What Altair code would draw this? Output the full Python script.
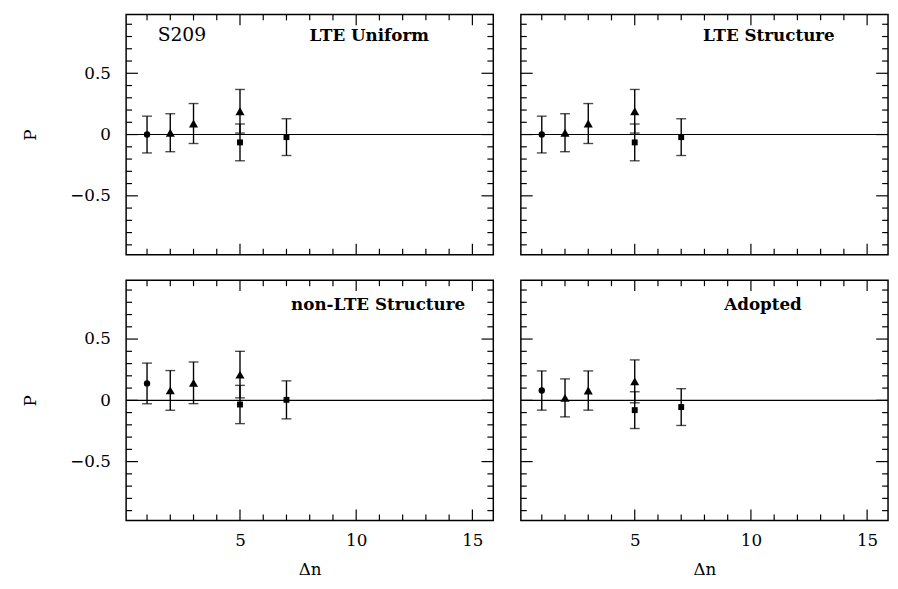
import altair as alt
import pandas as pd

# ---------------- data ----------------
dn = [1, 2, 3, 5, 5, 7]
marker = ["circle", "triangle", "triangle", "triangle", "square", "square"]

panel_names = ["LTE Uniform", "LTE Structure", "non-LTE Structure", "Adopted"]

p_lte_uniform = [0.00, 0.015, 0.09, 0.19, -0.064, -0.021]
e_lte_uniform = [0.15, 0.155, 0.163, 0.178, 0.150, 0.150]

p_lte_structure = [0.00, 0.015, 0.09, 0.19, -0.064, -0.021]
e_lte_structure = [0.15, 0.155, 0.163, 0.178, 0.150, 0.150]

p_nlte_structure = [0.138, 0.081, 0.143, 0.21, -0.034, 0.004]
e_nlte_structure = [0.166, 0.162, 0.170, 0.19, 0.156, 0.155]

p_adopted = [0.08, 0.02, 0.08, 0.155, -0.08, -0.055]
e_adopted = [0.16, 0.155, 0.16, 0.175, 0.15, 0.15]

x_major = [5, 10, 15]
x_minor = [1, 2, 3, 4, 6, 7, 8, 9, 11, 12, 13, 14]
y_major = [-0.5, 0.0, 0.5]
y_minor = [-0.9, -0.8, -0.7, -0.6, -0.4, -0.3, -0.2, -0.1,
           0.1, 0.2, 0.3, 0.4, 0.6, 0.7, 0.8, 0.9]

X_DOMAIN = [0.1, 15.9]
Y_DOMAIN = [-0.98, 0.98]
W, H = 373, 244
SERIF = "DejaVu Serif"
MARKERS = {"circle": ("circle", 42), "triangle": ("triangle-up", 85),
           "square": ("square", 36)}


def panel(name, pvals, evals, show_x, show_y, label_cx, label=None):
    df = pd.DataFrame({"dn": dn, "P": pvals, "err": evals, "marker": marker})
    df["lo"] = df["P"] - df["err"]
    df["hi"] = df["P"] + df["err"]

    xs = alt.Scale(domain=X_DOMAIN, nice=False, zero=False)
    ys = alt.Scale(domain=Y_DOMAIN, nice=False, zero=False)

    if show_x:
        xaxis = alt.Axis(values=x_major, title="Δn", grid=False, domain=False,
                         ticks=False, labelPadding=12, labelFont=SERIF,
                         labelFontSize=17, labelColor="black", titleFont=SERIF,
                         titleFontSize=17, titleFontWeight="normal",
                         titleColor="black", titlePadding=14, labelFlush=False)
    else:
        xaxis = None
    if show_y:
        yaxis = alt.Axis(values=y_major, title="P", grid=False, domain=False,
                         ticks=False, labelPadding=16, labelFont=SERIF,
                         labelFontSize=17, labelColor="black",
                         labelExpr="datum.value == 0 ? '0' : replace(format(datum.value, '.1f'), '-', '\u2212')",
                         titleFont=SERIF, titleFontSize=17,
                         titleFontWeight="normal", titleColor="black",
                         titleX=-97, titleY=H / 2, titleAngle=-90,
                         titleAlign="center", titleBaseline="middle",
                         labelFlush=False)
    else:
        yaxis = None

    base = alt.Chart(df)

    bars = base.mark_rule(color="black", strokeWidth=1.4).encode(
        x=alt.X("dn:Q", scale=xs, axis=xaxis),
        y=alt.Y("lo:Q", scale=ys, axis=yaxis),
        y2="hi:Q",
    )
    cap_lo = base.mark_tick(color="black", orient="horizontal", size=10,
                            thickness=1.4).encode(x="dn:Q", y="lo:Q")
    cap_hi = base.mark_tick(color="black", orient="horizontal", size=10,
                            thickness=1.4).encode(x="dn:Q", y="hi:Q")
    pts = []
    for key, (shp, sz) in MARKERS.items():
        pts.append(base.transform_filter(alt.datum.marker == key).mark_point(
            filled=True, color="black", opacity=1, shape=shp, size=sz
        ).encode(x="dn:Q", y="P:Q"))

    zero = alt.Chart(pd.DataFrame({"v": [0.0]})).mark_rule(
        color="black", strokeWidth=1.1).encode(y="v:Q")

    xmaj = alt.Chart(pd.DataFrame({"t": x_major}))
    xmin = alt.Chart(pd.DataFrame({"t": x_minor}))
    ymaj = alt.Chart(pd.DataFrame({"t": y_major}))
    ymin = alt.Chart(pd.DataFrame({"t": y_minor}))
    tk = dict(color="black", strokeWidth=1.2)
    ticks = [
        xmaj.mark_rule(**tk).encode(x="t:Q", y=alt.value(H), y2=alt.value(H - 11)),
        xmaj.mark_rule(**tk).encode(x="t:Q", y=alt.value(0), y2=alt.value(11)),
        xmin.mark_rule(**tk).encode(x="t:Q", y=alt.value(H), y2=alt.value(H - 6)),
        xmin.mark_rule(**tk).encode(x="t:Q", y=alt.value(0), y2=alt.value(6)),
        ymaj.mark_rule(**tk).encode(y="t:Q", x=alt.value(0), x2=alt.value(12)),
        ymaj.mark_rule(**tk).encode(y="t:Q", x=alt.value(W), x2=alt.value(W - 12)),
        ymin.mark_rule(**tk).encode(y="t:Q", x=alt.value(0), x2=alt.value(6)),
        ymin.mark_rule(**tk).encode(y="t:Q", x=alt.value(W), x2=alt.value(W - 6)),
    ]

    ty = 27 if not show_x else 30
    title_txt = alt.Chart(pd.DataFrame({"name": [name]})).mark_text(
        font=SERIF, fontSize=17, fontWeight="bold", color="black",
        align="center", baseline="alphabetic").encode(
        text="name:N", x=alt.value(label_cx), y=alt.value(ty))

    layers = [bars] + ticks + [zero, cap_lo, cap_hi] + pts + [title_txt]
    if label:
        layers.append(alt.Chart(pd.DataFrame({"name": [label]})).mark_text(
            font=SERIF, fontSize=19, color="black", align="left",
            baseline="alphabetic").encode(
            text="name:N", x=alt.value(32), y=alt.value(ty)))

    return alt.layer(*layers).properties(width=W, height=H)


p1 = panel(panel_names[0], p_lte_uniform, e_lte_uniform, False, True, 247, label="S209")
p2 = panel(panel_names[1], p_lte_structure, e_lte_structure, False, False, 252)
p3 = panel(panel_names[2], p_nlte_structure, e_nlte_structure, True, True, 256)
p4 = panel(panel_names[3], p_adopted, e_adopted, True, False, 246)

chart = alt.vconcat(
    alt.hconcat(p1, p2, spacing=24),
    alt.hconcat(p3, p4, spacing=24),
    spacing=22,
).properties(
    padding={"left": 13, "top": 0, "right": 0, "bottom": 0}
).configure(
    background="white",
    view=alt.ViewConfig(stroke="black", strokeWidth=1.5),
)

chart.save("out.html", embed_options={"renderer": "svg", "actions": False})
